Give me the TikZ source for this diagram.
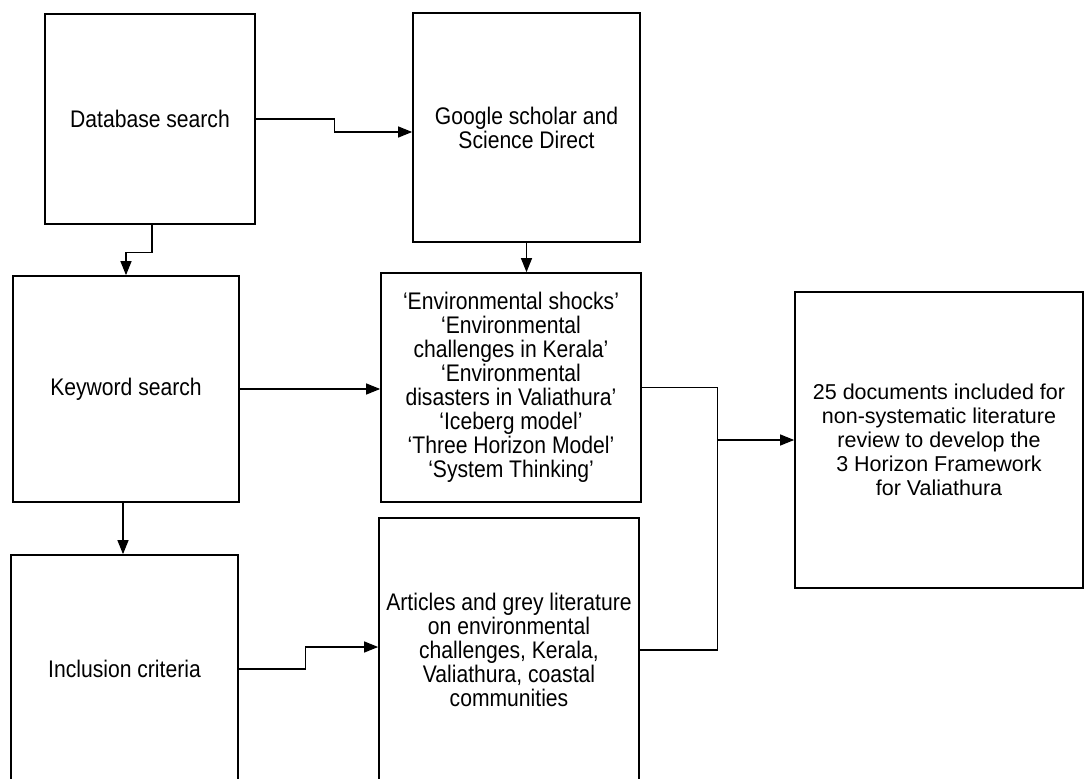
\documentclass[tikz,border=0pt]{standalone}
\usepackage{fontspec}
\setmainfont{Liberation Sans}
\newfontfamily\narrowsans[FakeStretch=0.88,Ligatures=TeX]{Liberation Sans}
\usetikzlibrary{arrows.meta}

\tikzset{
	stage/.style={draw=black,line width=1.7pt,fill=white,inner sep=2pt,align=center,
		font=\narrowsans\fontsize{24}{24}\selectfont},
	flow/.style={line width=1.2pt,->}
}

\begin{document}
\begin{tikzpicture}[line cap=butt,line join=miter,>={Triangle[length=14pt,width=11pt]},x=1pt,y=-1pt]
	\clip (0,0) rectangle (1088,779);
	\useasboundingbox (0,0) rectangle (1088,779);
	% left column
	\node [stage,minimum width=210pt,minimum height=210pt] (dbase) at (150,119) {Database search};
	\node [stage,minimum width=226pt,minimum height=226pt] (keyword) at (126,389) {Keyword search};
	\node [stage,minimum width=227pt,minimum height=228pt] (inclusion) at (124.5,669) {Inclusion criteria};
	% middle column
	\node [stage,minimum width=227pt,minimum height=229pt] (scholar) at (526.5,127.5) {Google scholar and\\Science Direct};
	\node [stage,minimum width=260pt,minimum height=229pt] (terms) at (511,387.5) {‘Environmental shocks’\\‘Environmental\\challenges in Kerala’\\‘Environmental\\disasters in Valiathura’\\‘Iceberg model’\\‘Three Horizon Model’\\‘System Thinking’};
	\node [stage,minimum width=260pt,minimum height=264pt] (articles) at (509,650) {Articles and grey literature\\on environmental\\challenges, Kerala,\\Valiathura, coastal\\communities};
	% result
	\node [stage,minimum width=288pt,minimum height=296pt,font=\fontsize{21.5}{24}\selectfont] (result) at (939,440) {25 documents included for\\non-systematic literature\\review to develop the\\3 Horizon Framework\\for Valiathura};
	% connectors
	\draw [flow] (dbase.east) -- ++(79,0) |- ([yshift=-4.5pt]scholar.west);
	\draw [flow] ([xshift=2pt]dbase.south) -- ++(0,28) -| (keyword.north);
	\draw [flow] (scholar.south) -- (scholar.south |- terms.north);
	\draw [flow] (keyword.east) -- (keyword.east -| terms.west);
	\draw [flow] ([xshift=-3pt]keyword.south) -- ([xshift=-3pt]keyword.south |- inclusion.north);
	\draw [flow] (inclusion.east) -- ++(67,0) |- ([yshift=3pt]articles.west);
	\coordinate (merge) at ([xshift=76pt]terms.east);
	\draw [line width=1.2pt] (terms.east) -- (merge) |- (articles.east);
	\draw [flow] (merge |- result.west) -- (result.west);
\end{tikzpicture}
\end{document}
